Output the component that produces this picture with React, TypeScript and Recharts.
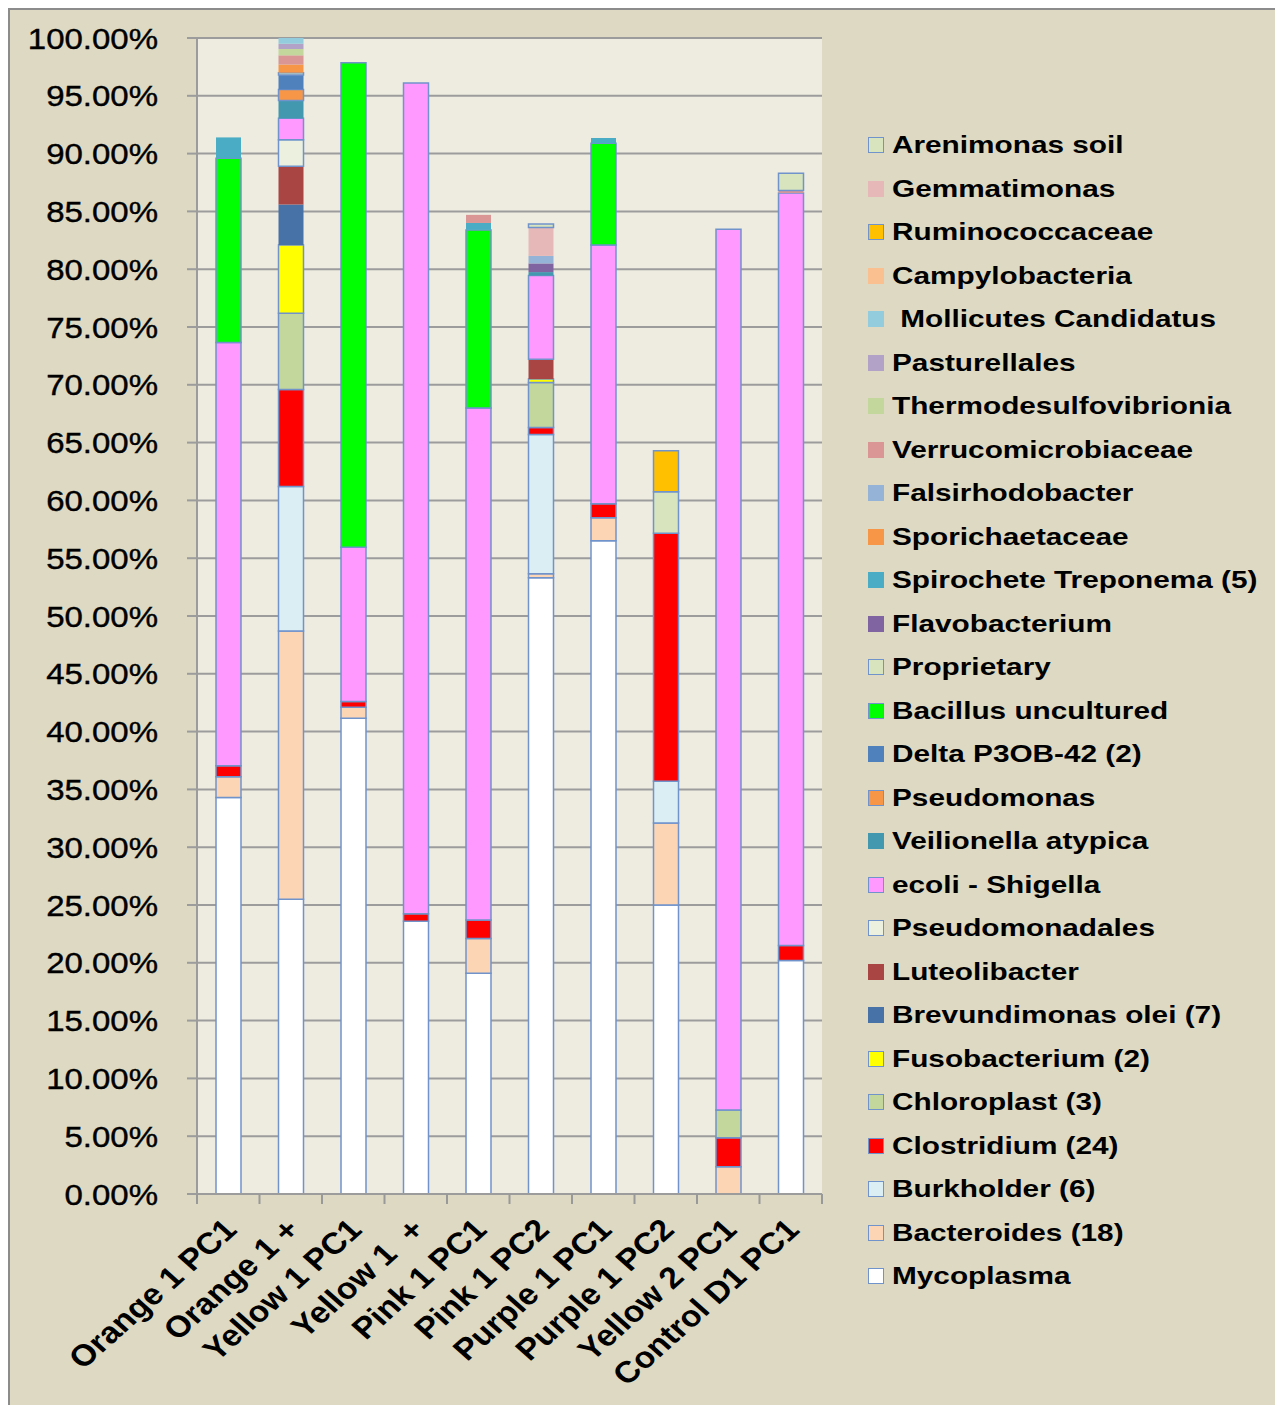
import React from "react"
import { BarChart, Bar, XAxis, YAxis, CartesianGrid } from "recharts"

// samples along the x axis
const categories = [
  "Orange 1 PC1",
  "Orange 1 +",
  "Yellow 1 PC1",
  "Yellow 1  +",
  "Pink 1 PC1",
  "Pink 1 PC2",
  "Purple 1 PC1",
  "Purple 1 PC2",
  "Yellow 2 PC1",
  "Control D1 PC1",
]

// percentages per sample, bottom of the stack first
const mycoplasma = [34.3, 25.5, 41.15, 23.6, 19.1, 53.3, 56.5, 25.0, 0, 20.2]
const bacteroides = [1.8, 23.2, 0.95, 0, 3.0, 0.35, 2.0, 7.1, 2.36, 0]
const burkholder = [0, 12.5, 0, 0, 0, 12.05, 0, 3.6, 0, 0]
const clostridium = [0.95, 8.4, 0.5, 0.65, 1.6, 0.6, 1.2, 21.45, 2.5, 1.3]
const chloroplast = [0, 6.6, 0, 0, 0, 3.9, 0, 0, 2.4, 0]
const fusobacterium = [0, 5.9, 0, 0, 0, 0.3, 0, 0, 0, 0]
const brevundimonas = [0, 3.5, 0, 0, 0, 0, 0, 0, 0, 0]
const luteolibacter = [0, 3.3, 0, 0, 0, 1.7, 0, 0, 0, 0]
const pseudomonadales = [0, 2.3, 0, 0, 0, 0, 0, 0, 0, 0]
const ecoli = [36.6, 1.85, 13.35, 71.85, 44.3, 7.25, 22.4, 0, 76.2, 65.1]
const veilionella = [0, 1.55, 0, 0, 0, 0.3, 0, 0, 0, 0]
const pseudomonas = [0, 0.95, 0, 0, 0, 0, 0, 0, 0, 0]
const delta = [0, 1.25, 0, 0, 0, 0, 0, 0, 0, 0]
const bacillus = [15.95, 0, 41.9, 0, 15.4, 0, 8.8, 0, 0, 0]
const proprietary = [0, 0.2, 0, 0, 0, 0, 0, 3.6, 0, 0]
const flavobacterium = [0, 0, 0, 0, 0, 0.75, 0, 0, 0, 0]
const spirochete = [1.8, 0, 0, 0, 0.6, 0, 0.45, 0, 0, 0]
const sporichaetaceae = [0, 0.7, 0, 0, 0, 0, 0, 0, 0, 0]
const falsirhodobacter = [0, 0, 0, 0, 0, 0.65, 0, 0, 0, 0]
const verrucomicrobiaceae = [0, 0.8, 0, 0, 0.7, 0, 0, 0, 0, 0.2]
const thermodesulfovibrionia = [0, 0.55, 0, 0, 0, 0, 0, 0, 0, 0]
const pasturellales = [0, 0.45, 0, 0, 0, 0, 0, 0, 0, 0]
const mollicutes = [0, 0.5, 0, 0, 0, 0, 0, 0, 0, 0]
const campylobacteria = [0, 0, 0, 0, 0, 0, 0, 0, 0, 0]
const ruminococcaceae = [0, 0, 0, 0, 0, 0, 0, 3.55, 0, 0]
const gemmatimonas = [0, 0, 0, 0, 0, 2.45, 0, 0, 0, 0]
const arenimonas = [0, 0, 0, 0, 0, 0.3, 0, 0, 0, 1.5]

const yTicks = [0, 5, 10, 15, 20, 25, 30, 35, 40, 45, 50, 55, 60, 65, 70, 75, 80, 85, 90, 95, 100]

const series = [
  { key: "Mycoplasma", values: mycoplasma, color: "#FFFFFF", border: true },
  { key: "Bacteroides (18)", values: bacteroides, color: "#FCD5B5", border: true },
  { key: "Burkholder (6)", values: burkholder, color: "#DBEEF4", border: true },
  { key: "Clostridium (24)", values: clostridium, color: "#FF0000", border: true },
  { key: "Chloroplast (3)", values: chloroplast, color: "#C3D69B", border: true },
  { key: "Fusobacterium (2)", values: fusobacterium, color: "#FFFF00", border: true },
  { key: "Brevundimonas olei (7)", values: brevundimonas, color: "#4672A8", border: false },
  { key: "Luteolibacter", values: luteolibacter, color: "#A94644", border: false },
  { key: "Pseudomonadales", values: pseudomonadales, color: "#EBF1DE", border: true },
  { key: "ecoli - Shigella", values: ecoli, color: "#FF99FF", border: true },
  { key: "Veilionella atypica", values: veilionella, color: "#4198AF", border: false },
  { key: "Pseudomonas", values: pseudomonas, color: "#F79646", border: true },
  { key: "Delta P3OB-42 (2)", values: delta, color: "#4F81BD", border: false },
  { key: "Bacillus uncultured", values: bacillus, color: "#00FF00", border: true },
  { key: "Proprietary", values: proprietary, color: "#D7E4BD", border: true },
  { key: "Flavobacterium", values: flavobacterium, color: "#8064A2", border: false },
  { key: "Spirochete Treponema (5)", values: spirochete, color: "#4BACC6", border: false },
  { key: "Sporichaetaceae", values: sporichaetaceae, color: "#F79646", border: false },
  { key: "Falsirhodobacter", values: falsirhodobacter, color: "#95B3D7", border: false },
  { key: "Verrucomicrobiaceae", values: verrucomicrobiaceae, color: "#D99694", border: false },
  { key: "Thermodesulfovibrionia", values: thermodesulfovibrionia, color: "#C3D69B", border: false },
  { key: "Pasturellales", values: pasturellales, color: "#B3A2C7", border: false },
  { key: " Mollicutes Candidatus", values: mollicutes, color: "#93CDDD", border: false },
  { key: "Campylobacteria", values: campylobacteria, color: "#FAC090", border: false },
  { key: "Ruminococcaceae", values: ruminococcaceae, color: "#FFC000", border: true },
  { key: "Gemmatimonas", values: gemmatimonas, color: "#E6B9B8", border: false },
  { key: "Arenimonas soil", values: arenimonas, color: "#D7E4BD", border: true },
]

const data = categories.map((name, i) => {
  const row: any = { name }
  series.forEach(s => (row[s.key] = s.values[i]))
  return row
})

const FONT = "'Liberation Sans', Arial, sans-serif"
const BORDER = "#7093CB"
const W = 1275
const H = 1397
const PLOT_LEFT = 189
const PLOT_RIGHT = 814
const PLOT_BOTTOM = 1186
const BAND = (PLOT_RIGHT - PLOT_LEFT) / categories.length

const YTick = ({ x, y, payload }: any) => (
  <text
    transform={`translate(${x},${y}) scale(1.1,1)`}
    textAnchor="end"
    dy="0.35em"
    fontSize={30}
    fontFamily={FONT}
    stroke="#000"
    strokeWidth={0.4}
    fill="#000"
  >
    {payload.value.toFixed(2) + "%"}
  </text>
)

const XTick = ({ x, payload, index }: any) => (
  <g>
    <line x1={x - BAND / 2} x2={x - BAND / 2} y1={PLOT_BOTTOM} y2={PLOT_BOTTOM + 10} stroke="#999" strokeWidth={2} />
    {index === categories.length - 1 && (
      <line x1={x + BAND / 2} x2={x + BAND / 2} y1={PLOT_BOTTOM} y2={PLOT_BOTTOM + 10} stroke="#999" strokeWidth={2} />
    )}
    <text
      transform={`translate(${x + 2},${PLOT_BOTTOM + 30}) scale(1.12,1) rotate(-45)`}
      textAnchor="end"
      dy="0.35em"
      fontSize={30}
      fontWeight="bold"
      fontFamily={FONT}
      fill="#000"
      style={{ whiteSpace: "pre" }}
    >
      {payload.value}
    </text>
  </g>
)

export default function App() {
  const legendItems = [...series].reverse()
  return (
    <div
      style={{
        position: "relative",
        width: W,
        height: H,
        background: "#DDD9C3",
        boxShadow: "inset 2px 2px 0 #8C8C8C",
      }}
    >
      <BarChart width={W} height={H} data={data} margin={{ top: 30, right: W - PLOT_RIGHT, bottom: 11, left: 0 }} barSize={25}>
        <CartesianGrid fill="#EEECE1" stroke="#9C9C9C" strokeWidth={2} vertical={false} />
        <YAxis
          width={PLOT_LEFT}
          domain={[0, 100]}
          ticks={yTicks}
          interval={0}
          axisLine={{ stroke: "#9C9C9C", strokeWidth: 2 }}
          tickLine={{ stroke: "#9C9C9C", strokeWidth: 2 }}
          tickSize={10}
          tickMargin={29}
          tick={<YTick />}
        />
        <XAxis
          dataKey="name"
          height={200}
          interval={0}
          axisLine={{ stroke: "#9C9C9C", strokeWidth: 2 }}
          tickLine={false}
          tick={<XTick />}
        />
        {series.map(s => (
          <Bar
            key={s.key}
            dataKey={s.key}
            stackId="a"
            fill={s.color}
            stroke={s.border ? BORDER : "none"}
            strokeWidth={s.border ? 1.5 : 0}
            isAnimationActive={false}
          />
        ))}
      </BarChart>
      <div style={{ position: "absolute", left: 860, top: 0, fontFamily: FONT }}>
        {legendItems.map((s, i) => (
          <div key={s.key} style={{ position: "absolute", top: 137 + i * 43.5 - 14, left: 0, height: 28, width: 420 }}>
            <div
              style={{
                position: "absolute",
                left: 0,
                top: 6,
                width: 16,
                height: 16,
                boxSizing: "border-box",
                background: s.color,
                border: s.border ? `1.5px solid ${BORDER}` : "none",
              }}
            />
            <div
              style={{
                position: "absolute",
                left: 24,
                top: 0,
                lineHeight: "28px",
                fontSize: 24,
                fontWeight: "bold",
                whiteSpace: "pre",
                transform: "scaleX(1.24)",
                transformOrigin: "left center",
              }}
            >
              {s.key}
            </div>
          </div>
        ))}
      </div>
    </div>
  )
}
